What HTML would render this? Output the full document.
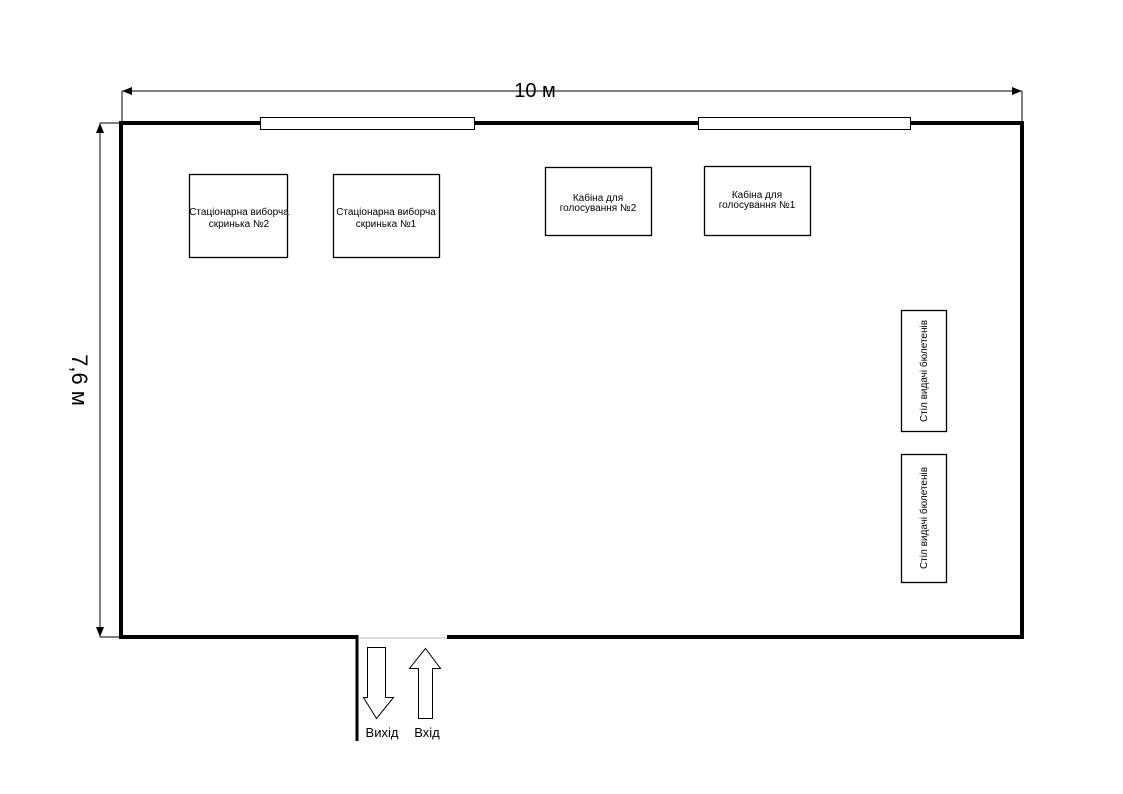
<!DOCTYPE html>
<html><head><meta charset="utf-8"><style>
html,body{margin:0;padding:0;background:#fff;}
svg{display:block;font-family:"Liberation Sans",sans-serif;}
</style></head><body>
<svg width="1123" height="794" viewBox="0 0 1123 794" xmlns="http://www.w3.org/2000/svg">
<defs>
<marker id="ar" markerWidth="10" markerHeight="8" refX="10" refY="4" orient="auto-start-reverse" markerUnits="userSpaceOnUse">
<path d="M0,0 L10,4 L0,8 Z" fill="#000"/>
</marker>
</defs>
<!-- top dimension -->
<line x1="122" y1="91" x2="1022" y2="91" stroke="#000" stroke-width="1" marker-start="url(#ar)" marker-end="url(#ar)"/>
<line x1="122" y1="91" x2="122" y2="123" stroke="#000" stroke-width="1"/>
<line x1="1022" y1="91" x2="1022" y2="123" stroke="#000" stroke-width="1"/>
<text x="535" y="97" font-size="20" text-anchor="middle">10 м</text>
<!-- left dimension -->
<line x1="100" y1="123" x2="100" y2="637" stroke="#000" stroke-width="1" marker-start="url(#ar)" marker-end="url(#ar)"/>
<line x1="100" y1="123" x2="121" y2="123" stroke="#000" stroke-width="1"/>
<line x1="100" y1="637" x2="121" y2="637" stroke="#000" stroke-width="1"/>
<text transform="translate(72,380) rotate(90)" font-size="22" text-anchor="middle">7,6 м</text>
<!-- walls -->
<path d="M357,637 L121,637 L121,123 L1022,123 L1022,637 L447,637" fill="none" stroke="#000" stroke-width="4"/>
<line x1="357" y1="635" x2="357" y2="741" stroke="#000" stroke-width="3"/>
<line x1="359" y1="638" x2="447" y2="638" stroke="#bbb" stroke-width="1"/>
<!-- windows -->
<rect x="260.5" y="117.5" width="214" height="12" fill="#fff" stroke="#000" stroke-width="1"/>
<rect x="698.5" y="117.5" width="212" height="12" fill="#fff" stroke="#000" stroke-width="1"/>
<!-- boxes -->
<g fill="#fff" stroke="#000" stroke-width="1.3">
<rect x="189.5" y="174.5" width="98" height="83"/>
<rect x="333.5" y="174.5" width="106" height="83"/>
<rect x="545.5" y="167.5" width="106" height="68"/>
<rect x="704.5" y="166.5" width="106" height="69"/>
<rect x="901.5" y="310.5" width="45" height="121"/>
<rect x="901.5" y="454.5" width="45" height="128"/>
</g>
<g font-size="10" text-anchor="middle" fill="#000">
<text x="239" y="215">Стаціонарна виборча</text>
<text x="239" y="227">скринька №2</text>
<text x="386" y="215">Стаціонарна виборча</text>
<text x="386" y="227">скринька №1</text>
<text x="598" y="201">Кабіна для</text>
<text x="598" y="211">голосування №2</text>
<text x="757" y="198">Кабіна для</text>
<text x="757" y="208">голосування №1</text>
<text transform="translate(927,371) rotate(-90)">Стіл видачі бюлетенів</text>
<text transform="translate(927,518) rotate(-90)">Стіл видачі бюлетенів</text>
</g>
<!-- door arrows -->
<path d="M367.5,647.5 L385.5,647.5 L385.5,697.5 L393.5,697.5 L376.5,718.5 L363.5,697.5 L367.5,697.5 Z" fill="#fff" stroke="#000" stroke-width="1"/>
<path d="M418.5,718.5 L432.5,718.5 L432.5,668.5 L440.5,668.5 L425.5,648.5 L409.5,668.5 L418.5,668.5 Z" fill="#fff" stroke="#000" stroke-width="1"/>
<text x="382" y="737" font-size="13" text-anchor="middle">Вихід</text>
<text x="427" y="737" font-size="13" text-anchor="middle">Вхід</text>
</svg>
</body></html>
